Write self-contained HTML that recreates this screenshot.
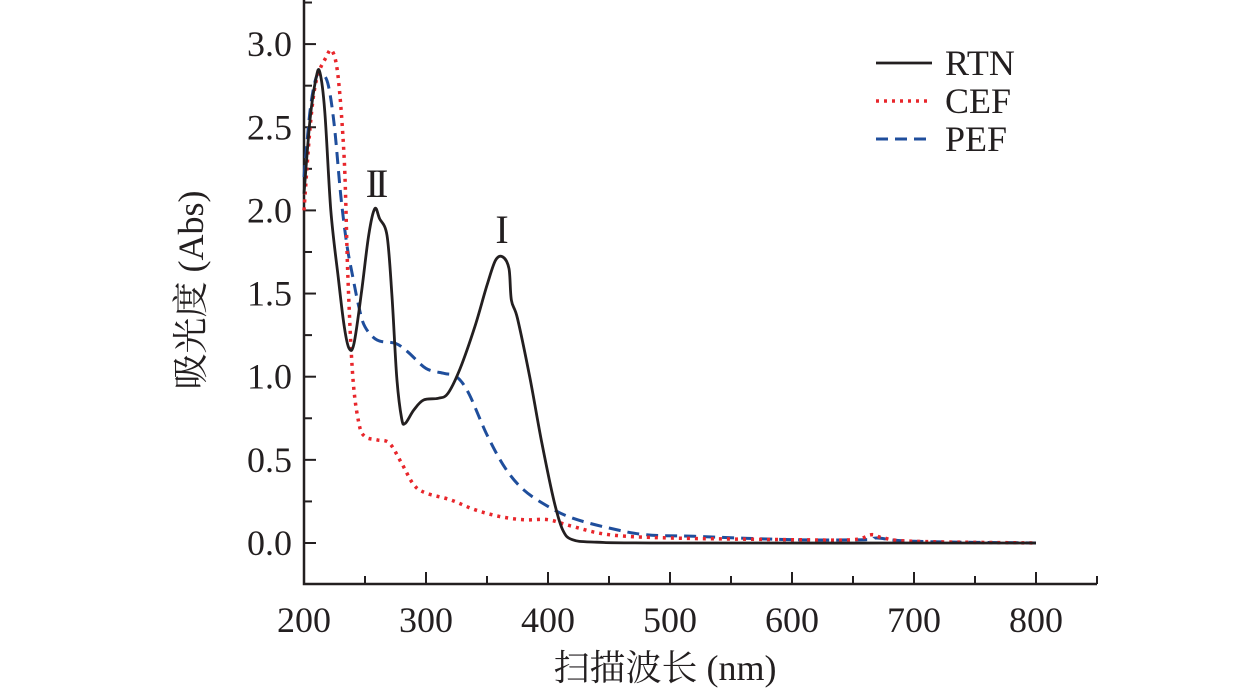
<!DOCTYPE html>
<html><head><meta charset="utf-8"><style>
html,body{margin:0;padding:0;background:#fff;width:1260px;height:700px;overflow:hidden}
text{font-family:"Liberation Serif","Noto Serif CJK SC",serif;fill:#231f20}
</style></head><body>
<svg id="chart" width="1260" height="700" xmlns="http://www.w3.org/2000/svg"></svg>
<script>
const xTicks=[200,300,400,500,600,700,800];
const yTicks=[0.0,0.5,1.0,1.5,2.0,2.5,3.0];
const seriesNames=["RTN","CEF","PEF"];
const rtnX=[200,205,210,213,217,222,228,233,237,241,247,253,258,262,268,272,276,280,283,290,298,310,318,328,340,350,357,363,368,370,375,385,395,405,412,420,440,500,800];
const rtnY=[2.1,2.55,2.8,2.83,2.6,2.0,1.6,1.3,1.17,1.2,1.5,1.85,2.01,1.95,1.85,1.5,1.0,0.75,0.72,0.8,0.86,0.87,0.9,1.05,1.3,1.55,1.7,1.72,1.65,1.46,1.35,1.0,0.6,0.25,0.08,0.02,0.005,0,0];
const cefX=[200,205,210,218,223,228,233,236,240,245,250,260,270,280,290,300,320,340,360,380,400,420,450,500,600,650,665,675,700,800];
const cefY=[2.0,2.5,2.78,2.92,2.96,2.8,2.3,1.6,1.0,0.72,0.64,0.62,0.6,0.48,0.35,0.3,0.26,0.2,0.16,0.14,0.14,0.1,0.05,0.03,0.02,0.02,0.05,0.03,0.01,0];
const pefX=[200,205,210,215,220,225,230,235,240,245,250,260,275,285,300,315,325,335,350,365,380,400,420,450,480,520,600,660,670,700,800];
const pefY=[2.2,2.6,2.8,2.82,2.75,2.5,2.1,1.8,1.6,1.42,1.3,1.22,1.2,1.15,1.05,1.02,1.0,0.9,0.65,0.45,0.32,0.22,0.15,0.09,0.05,0.04,0.02,0.02,0.03,0.01,0];

const svg=document.getElementById('chart');
const NS='http://www.w3.org/2000/svg';
const X0=304,Y0=543,PX=1.22,PY=166.3,AXB=584;
const sx=v=>X0+(v-200)*PX, sy=v=>Y0-v*PY;
function mk(tag,attrs,parent){const e=document.createElementNS(NS,tag);for(const k in attrs)e.setAttribute(k,attrs[k]);(parent||svg).appendChild(e);return e;}

const axes=mk('g',{});


const ax=mk('path',{d:`M${X0},0 V${AXB} H${sx(850)}`,fill:'none',stroke:'#231f20','stroke-width':2.5},axes);


for(let v=200;v<=850;v+=50){
  const t=mk('line',{x1:sx(v),x2:sx(v),y1:AXB,y2:AXB-(v%100===0?12:8),stroke:'#231f20','stroke-width':2},axes);
  
  
}
for(let v=0;v<=3.25;v+=0.25){
  const t=mk('line',{x1:X0,x2:X0+(Math.round(v*4)%2===0?12:8),y1:sy(v),y2:sy(v),stroke:'#231f20','stroke-width':2},axes);
  
  
}
xTicks.forEach(v=>{
  const t=mk('text',{x:sx(v),y:632,'text-anchor':'middle','font-size':36},axes);
  t.textContent=v;
  
  
});
yTicks.forEach(v=>{
  const t=mk('text',{x:292,y:sy(v)+12,'text-anchor':'end','font-size':36},axes);
  t.textContent=v.toFixed(1);
  
  
});
const xt=mk('text',{x:665,y:680,'text-anchor':'middle','font-size':36});
xt.textContent='扫描波长 (nm)';


const yt=mk('text',{x:0,y:0,'text-anchor':'middle','font-size':36,transform:'translate(203,290) rotate(-90)'});
yt.textContent='吸光度 (Abs)';



function smooth(pts){
  let d='M'+pts[0][0].toFixed(1)+','+pts[0][1].toFixed(1);
  for(let i=0;i<pts.length-1;i++){
    const p0=pts[Math.max(0,i-1)],p1=pts[i],p2=pts[i+1],p3=pts[Math.min(pts.length-1,i+2)];
    const c1=[p1[0]+(p2[0]-p0[0])/6,p1[1]+(p2[1]-p0[1])/6];
    const c2=[p2[0]-(p3[0]-p1[0])/6,p2[1]-(p3[1]-p1[1])/6];
    d+=` C${c1[0].toFixed(1)},${c1[1].toFixed(1)} ${c2[0].toFixed(1)},${c2[1].toFixed(1)} ${p2[0].toFixed(1)},${p2[1].toFixed(1)}`;
  }
  return d;
}
const styles=[{c:'#231f20',d:'',w:2.8},{c:'#e8262b',d:'3 5',w:3.5},{c:'#1f4e9c',d:'12 7',w:3}];
const data=[[rtnX,rtnY],[cefX,cefY],[pefX,pefY]];
[2,1,0].forEach(i=>{
  const [xs,ys]=data[i];
  const pts=xs.map((x,j)=>[sx(x),sy(ys[j])]);
  const p=mk('path',{d:smooth(pts),fill:'none',stroke:styles[i].c,'stroke-width':styles[i].w,'stroke-dasharray':styles[i].d,'stroke-linejoin':'round'});
  
  
});
const legend=mk('g',{});


seriesNames.forEach((n,i)=>{
  const y=63+i*38;
  const g=mk('g',{},legend);
  
  
  mk('line',{x1:876,x2:932,y1:y,y2:y,stroke:styles[i].c,'stroke-width':styles[i].w,'stroke-dasharray':styles[i].d},g);
  const t=mk('text',{x:945,y:y+12,'font-size':36},g);
  t.textContent=n;
});
const r2=mk('text',{x:375,y:197,'text-anchor':'middle','font-size':40,'letter-spacing':-4});
r2.textContent='II';


const r1=mk('text',{x:502,y:243,'text-anchor':'middle','font-size':40});
r1.textContent='I';


</script>
</body></html>
